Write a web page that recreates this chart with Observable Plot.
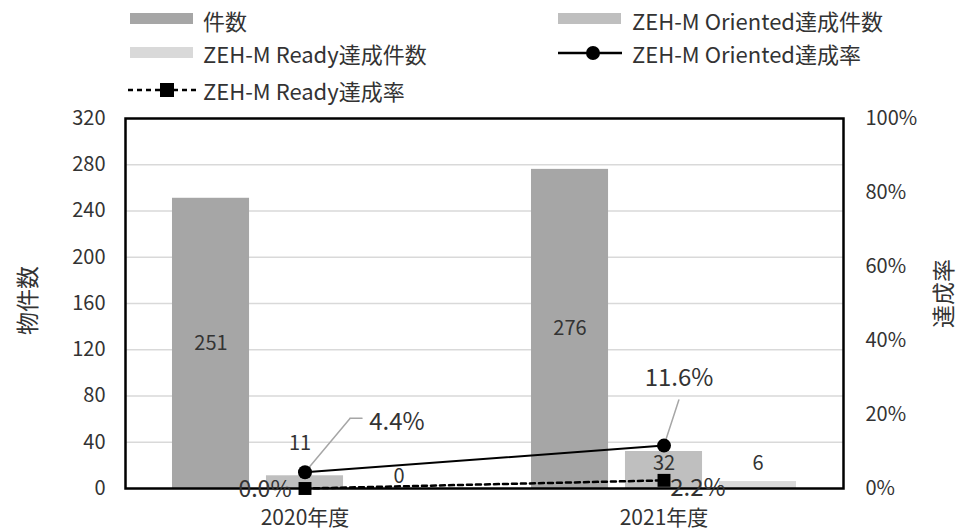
<!DOCTYPE html>
<html><head><meta charset="utf-8">
<script src="https://cdn.jsdelivr.net/npm/d3@7"></script>
<script src="https://cdn.jsdelivr.net/npm/@observablehq/plot@0.6"></script>
<style>
body{margin:0;background:#fff;font-family:"Noto Sans CJK JP","Noto Sans",sans-serif;}
#wrap{position:relative;width:961px;height:532px;overflow:hidden;}
#legend{position:relative;width:961px;height:95px;}
.lt{position:absolute;font-size:22px;line-height:26px;color:#333;white-space:nowrap;}
.sw{position:absolute;}
#chart svg{display:block;}
</style></head><body>
<div id="wrap"><div id="legend"></div><div id="chart"></div></div>
<script>
// ---- data ----
const categories = ["2020年度", "2021年度"];
const seriesNames = ["件数", "ZEH-M Oriented達成件数", "ZEH-M Ready達成件数"];
const totalCounts = [251, 276];
const orientedCounts = [11, 32];
const readyCounts = [0, 6];
const rateNames = ["ZEH-M Oriented達成率", "ZEH-M Ready達成率"];
const orientedRate = [4.4, 11.6];   // %
const readyRate = [0.0, 2.2];       // %
const leftTicks = [0, 40, 80, 120, 160, 200, 240, 280, 320];
const rightTicks = [0, 20, 40, 60, 80, 100]; // %
const barColors = ["#a6a6a6", "#bfbfbf", "#d9d9d9"];

// ---- tables ----
const countSeries = [totalCounts, orientedCounts, readyCounts];
const barRows = seriesNames.map((s, i) => categories.map((c, j) => ({category: c, series: s, value: countSeries[i][j]})));
const orRows = categories.map((c, j) => ({category: c, rate: orientedRate[j]}));
const rdRows = categories.map((c, j) => ({category: c, rate: readyRate[j]}));
const yMax = leftTicks[leftTicks.length - 1];
const rateY = d => d.rate / 100 * yMax;

// ---- layout ----
const W = 961, H = 437, mL = 125, mR = 118, mT = 23, mB = 44;
const bandW = (W - mL - mR) / categories.length;
const sub = d3.scaleBand(seriesNames, [0, bandW]).paddingInner(0.18).paddingOuter(0.5);
const dxFor = s => sub(s) + sub.bandwidth() / 2 - bandW / 2;
const ink = "#333";

const bars = seriesNames.map((s, i) => Plot.barY(barRows[i], {
  x: "category", y: "value", fill: barColors[i],
  insetLeft: sub(s), insetRight: bandW - sub(s) - sub.bandwidth()
}));

const one = (rows, j) => [rows[j]];
const barLabel = (i, j, yFn, dy, extraDx = 0) => Plot.text(one(barRows[i], j), {
  x: "category", y: yFn, text: d => String(d.value), dx: dxFor(seriesNames[i]) + extraDx, dy,
  fontSize: 20, fill: ink
});
const rateLabel = (rows, j, dx, dy, fs = 24) => Plot.text(one(rows, j), {
  x: "category", y: rateY, text: d => d.rate.toFixed(1) + "%", dx, dy, fontSize: fs, fill: ink
});
const seg = {draw(context, l) { context.moveTo(0, 0); context.lineTo(0, -l); }};
const leader = (rows, j, len, rot, dx = 0, dy = 0) => Plot.vector(one(rows, j), {
  x: "category", y: rateY, length: len, rotate: rot, anchor: "start", shape: seg,
  stroke: "#a6a6a6", strokeWidth: 1.5, dx, dy
});

const chart = Plot.plot({
  width: W, height: H, marginLeft: mL, marginRight: mR, marginTop: mT, marginBottom: mB,
  style: {fontFamily: '"Noto Sans CJK JP","Noto Sans",sans-serif', fontSize: "20px", color: ink, background: "#fff"},
  x: {type: "band", domain: categories, padding: 0, label: null},
  y: {domain: [0, yMax], label: null},
  marks: [
    Plot.gridY({ticks: leftTicks.slice(1, -1), stroke: "#d9d9d9", strokeOpacity: 1, strokeWidth: 1.3}),
    ...bars,
    Plot.frame({stroke: "#000", strokeWidth: 2.5}),
    Plot.axisY({ticks: leftTicks, tickSize: 0, tickPadding: 20, label: null, fontSize: 20, fill: ink}),
    Plot.axisY({anchor: "right", ticks: rightTicks.map(p => p / 100 * yMax), tickFormat: d => Math.round(d / yMax * 100) + "%",
      tickSize: 0, tickPadding: 22, label: null, fontSize: 20, fill: ink}),
    Plot.axisX({tickSize: 0, tickPadding: 22, label: null, fontSize: 21, fill: ink}),
    Plot.text(["物件数"], {text: d => d, frameAnchor: "left", textAnchor: "middle", dx: -97, dy: -3, rotate: -90, fontSize: 23, fill: ink}),
    Plot.text(["達成率"], {text: d => d, frameAnchor: "right", textAnchor: "middle", dx: 101, dy: -10, rotate: -90, fontSize: 23, fill: ink}),
    // bar labels
    barLabel(0, 0, d => d.value / 2, 0),
    barLabel(0, 1, d => d.value / 2, 0),
    barLabel(1, 0, "value", -32, -5),
    barLabel(1, 1, "value", 12),
    barLabel(2, 0, "value", -12),
    barLabel(2, 1, "value", -18),
    // leaders
    leader(orRows, 0, 70, 40),
    leader(orRows, 0, 12, 90, 45, -54),
    leader(orRows, 1, 48, 18),
    // rate lines
    Plot.line(orRows, {x: "category", y: rateY, stroke: "#000", strokeWidth: 2}),
    Plot.line(rdRows, {x: "category", y: rateY, stroke: "#000", strokeWidth: 2.5, strokeDasharray: "5,4"}),
    Plot.dot(orRows, {x: "category", y: rateY, r: 7, fill: "#000"}),
    Plot.dot(rdRows, {x: "category", y: rateY, r: 7.3, symbol: "square", fill: "#000"}),
    // rate labels
    rateLabel(orRows, 0, 92, -50),
    rateLabel(orRows, 1, 15, -67),
    rateLabel(rdRows, 0, -40, 1, 23),
    rateLabel(rdRows, 1, 34, 8)
  ]
});
document.getElementById("chart").appendChild(chart);

// ---- legend (HTML above the SVG) ----
const legend = document.getElementById("legend");
const NS = "http://www.w3.org/2000/svg";
function swatch(left, cy, kind, color) {
  const s = document.createElementNS(NS, "svg");
  s.setAttribute("class", "sw");
  s.setAttribute("width", 72); s.setAttribute("height", 20);
  s.style.left = left + "px"; s.style.top = (cy - 10) + "px";
  if (kind === "rect") {
    s.innerHTML = `<rect x="0" y="4" width="63" height="11" fill="${color}"/>`;
  } else if (kind === "circle") {
    s.innerHTML = `<line x1="0" y1="10" x2="64" y2="10" stroke="#000" stroke-width="2.5"/><circle cx="35" cy="10" r="7" fill="#000"/>`;
  } else {
    s.innerHTML = `<line x1="0" y1="10" x2="70" y2="10" stroke="#000" stroke-width="2.5" stroke-dasharray="5,4"/><rect x="32" y="3" width="14" height="14" fill="#000"/>`;
  }
  legend.appendChild(s);
}
function label(left, cy, txt) {
  const d = document.createElement("div");
  d.className = "lt"; d.textContent = txt;
  d.style.left = left + "px"; d.style.top = (cy - 13) + "px";
  legend.appendChild(d);
}
swatch(130, 19, "rect", barColors[0]); label(203, 20, seriesNames[0]);
swatch(558, 19, "rect", barColors[1]); label(632, 20, seriesNames[1]);
swatch(130, 53, "rect", barColors[2]); label(203, 53, seriesNames[2]);
swatch(558, 53, "circle"); label(632, 53, rateNames[0]);
swatch(128, 90, "square"); label(203, 90, rateNames[1]);
</script>
</body></html>
